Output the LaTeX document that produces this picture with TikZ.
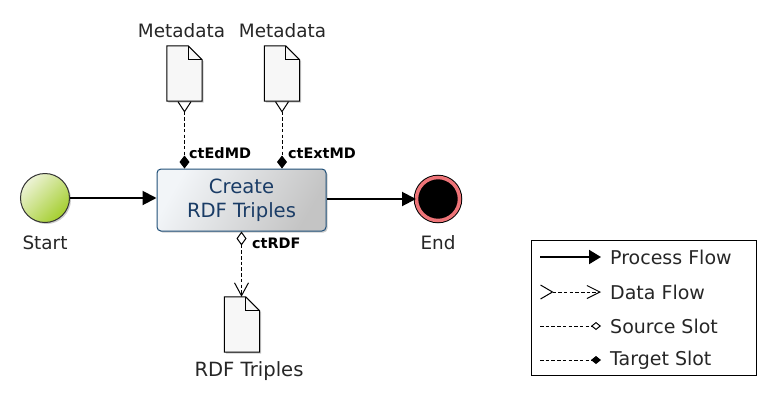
\documentclass[tikz,border=0pt]{standalone}
\usepackage{fontspec}
\setmainfont{DejaVu Sans}
\usetikzlibrary{arrows.meta,shadows}
\definecolor{taskblue}{HTML}{1A3C66}
\definecolor{taskline}{HTML}{1F4F78}
\definecolor{taskpale}{HTML}{F2F5F8}
\definecolor{taskgray}{HTML}{C4C4C4}
\definecolor{startpale}{HTML}{EDF3D6}
\definecolor{startgreen}{HTML}{A4CE2E}
\definecolor{endred}{HTML}{EE7478}

\begin{document}
\begin{tikzpicture}[x=1pt, y=-1pt]
  \tikzstyle{softshadow}=[drop shadow={shadow xshift=1.5pt,shadow yshift=-1.5pt,fill=black,opacity=0.2}]
  \tikzstyle{label}=[font=\fontsize{18.4}{20}\selectfont, text=black!85, inner sep=0pt]
  \tikzstyle{legendlabel}=[font=\fontsize{19}{20}\selectfont, text=black!85, inner sep=0pt, anchor=west]
  \tikzstyle{slotlabel}=[font=\bfseries\fontsize{14.4}{16}\selectfont, inner sep=0pt, anchor=west]
  \tikzstyle{startev}=[circle, draw=black!80, line width=1pt, minimum size=49pt, inner sep=0pt, softshadow,
    left color=startpale, right color=startgreen, shading angle=45]
  \tikzstyle{endev}=[circle, draw=black, line width=1pt, double=endred, double distance=3.5pt,
    fill=black, minimum size=43pt, inner sep=0pt, softshadow]
  \tikzstyle{task}=[rectangle, rounded corners=4pt, draw=taskline, line width=1pt, minimum width=169pt, minimum height=62pt,
    inner sep=0pt, align=center, text=taskblue, font=\fontsize{19.6}{24}\selectfont, softshadow,
    left color=taskpale, middle color=taskpale!85!taskgray, right color=taskgray, shading angle=60]
  \tikzstyle{docfile}=[rectangle, minimum width=35pt, minimum height=55pt, inner sep=0pt,
    append after command={\pgfextra{
      \draw[fill=black!3, line width=1pt, softshadow]
        (\tikzlastnode.north west) -- ([xshift=-14pt]\tikzlastnode.north east)
        -- ([yshift=-14pt]\tikzlastnode.north east) -- (\tikzlastnode.south east)
        -- (\tikzlastnode.south west) -- cycle;
      \draw[line width=1pt] ([xshift=-14pt]\tikzlastnode.north east)
        -- ([xshift=-14pt,yshift=-14pt]\tikzlastnode.north east)
        -- ([yshift=-14pt]\tikzlastnode.north east);
    }}]
  \tikzstyle{process}=[line width=2pt, -{Triangle[length=14pt,width=14pt]}]
  \tikzstyle{data}=[line width=1pt, dash pattern=on 3.5pt off 2.2pt]

  \useasboundingbox (0,0) rectangle (772,400);

  \node[startev] (S) at (45,198) {};
  \node[task] (T) at (241.5,200) {Create\\RDF Triples};
  \node[endev] (E) at (438,199) {};
  \node[label] (S-txt) at (45,243) {Start};
  \node[label] (E-txt) at (438,243) {End};

  \node[docfile] (D1) at (184.5,73.5) {};
  \node[docfile] (D2) at (282,73.5) {};
  \node[docfile] (D3) at (242,324.5) {};
  \node[label] (D1-txt) at (181.5,31) {Metadata};
  \node[label] (D2-txt) at (282.5,31) {Metadata};
  \node[label, font=\fontsize{19.6}{20}\selectfont] (D3-txt) at (249,371) {RDF Triples};

  \node[slotlabel] (Sl1) at (189,153) {ctEdMD};
  \node[slotlabel] (Sl2) at (288,153) {ctExtMD};
  \node[slotlabel] (Sl3) at (252,243) {ctRDF};

  \draw[process] (S) -- (T.west |- S);
  \draw[process] (T.east |- E) -- (E);

  \draw[data, {Straight Barb[reversed,length=10pt,width=13pt]}-{Diamond[length=13pt,width=10pt]}]
    (D1.south) -- (D1.south |- T.north);
  \draw[data, {Straight Barb[reversed,length=10pt,width=13pt]}-{Diamond[length=13pt,width=10pt]}]
    (D2.south) -- (D2.south |- T.north);
  \draw[data, {Diamond[open,length=14pt,width=10pt]}-{Straight Barb[length=13pt,width=14pt]}]
    (T.south) -- (T.south |- D3.north);

  % legend
  \node[draw, line width=0.9pt, minimum width=225pt, minimum height=135pt, inner sep=0pt] (L) at (643.5,307.5) {};
  \foreach \name / \y / \txt in {1/257/Process Flow, 2/292/Data Flow, 3/326/Source Slot, 4/360/Target Slot} {
    \coordinate (L\name-a) at (540,\y);
    \coordinate (L\name-b) at (601,\y);
    \node[legendlabel] (L\name-txt) at (610,\y) {\txt};
  }
  \draw[line width=2pt, -{Triangle[length=12pt,width=14pt]}] (L1-a) -- (L1-b);
  \draw[data, {Straight Barb[reversed,length=12pt,width=14pt]}-{Straight Barb[length=13pt,width=13pt]}] (L2-a) -- (L2-b);
  \draw[data, -{Diamond[open,length=10pt,width=8pt]}] (L3-a) -- (L3-b);
  \draw[data, -{Diamond[length=10pt,width=8pt]}] (L4-a) -- (L4-b);
\end{tikzpicture}
\end{document}
